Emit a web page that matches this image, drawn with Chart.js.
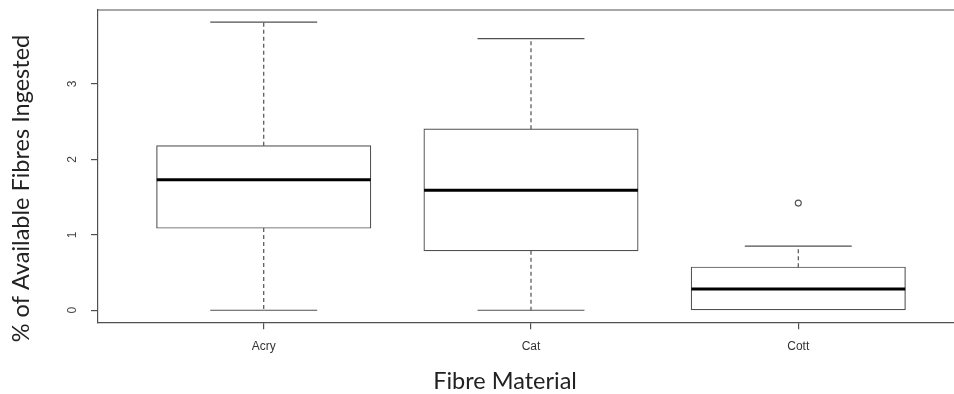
<!DOCTYPE html>
<html>
<head>
<meta charset="utf-8">
<script src="https://cdn.jsdelivr.net/npm/chart.js@4/dist/chart.umd.min.js"></script>
<style>
  html, body { margin: 0; padding: 0; background: #fff; overflow: hidden; }
  #wrap { width: 954px; height: 394px; overflow: hidden; position: relative; }
  canvas { display: block; }
</style>
</head>
<body>
<div id="wrap"><canvas id="c" width="970" height="394"></canvas></div>
<script>
// Fibre ingestion by material: five-number summaries per group
const categories    = ['Acry', 'Cat', 'Cott'];
const lowerWhisker  = [0.00, 0.00, 0.00];
const lowerQuartile = [1.09, 0.79, 0.00];
const medians       = [1.73, 1.59, 0.28];
const upperQuartile = [2.18, 2.40, 0.57];
const upperWhisker  = [3.82, 3.60, 0.85];
const outlierGroup  = [3];
const outlierValue  = [1.42];
const yTickValues   = [0, 1, 2, 3];

const LINE = '#505050';

const boxData = categories.map((c, i) => ({ x: i + 1, y: [lowerQuartile[i], upperQuartile[i]] }));
const outlierData = outlierGroup.map((g, i) => ({ x: g, y: outlierValue[i] }));

// whiskers, staples, medians, top frame line, rotated y labels and axis titles
const boxplotExtras = {
  id: 'boxplotExtras',
  afterDatasetsDraw(chart) {
    const { ctx, scales: { x, y }, chartArea } = chart;
    ctx.save();
    categories.forEach((c, i) => {
      const cx = x.getPixelForValue(i + 1);
      const capL = x.getPixelForValue(i + 1 - 0.2);
      const capR = x.getPixelForValue(i + 1 + 0.2);
      const boxL = x.getPixelForValue(i + 1 - 0.4);
      const boxR = x.getPixelForValue(i + 1 + 0.4);
      // dashed whiskers
      ctx.strokeStyle = LINE;
      ctx.lineWidth = 1.2;
      ctx.setLineDash([4, 3]);
      ctx.beginPath();
      ctx.moveTo(cx, y.getPixelForValue(upperQuartile[i]));
      ctx.lineTo(cx, y.getPixelForValue(upperWhisker[i]));
      if (lowerQuartile[i] > lowerWhisker[i]) {
        ctx.moveTo(cx, y.getPixelForValue(lowerQuartile[i]));
        ctx.lineTo(cx, y.getPixelForValue(lowerWhisker[i]));
      }
      ctx.stroke();
      // staples (a staple that sits on the box edge is covered by the box itself)
      ctx.setLineDash([]);
      ctx.beginPath();
      const staples = [upperWhisker[i]];
      if (lowerQuartile[i] > lowerWhisker[i]) staples.push(lowerWhisker[i]);
      staples.forEach(v => {
        const py = y.getPixelForValue(v);
        ctx.moveTo(capL, py);
        ctx.lineTo(capR, py);
      });
      ctx.stroke();
      // median
      ctx.strokeStyle = '#000';
      ctx.lineWidth = 3;
      ctx.beginPath();
      const my = y.getPixelForValue(medians[i]);
      ctx.moveTo(boxL, my);
      ctx.lineTo(boxR, my);
      ctx.stroke();
    });
    // top edge of the plot frame
    ctx.strokeStyle = LINE;
    ctx.lineWidth = 1.2;
    ctx.beginPath();
    ctx.moveTo(chartArea.left, chartArea.top);
    ctx.lineTo(chartArea.right, chartArea.top);
    ctx.stroke();
    ctx.restore();
  },
  afterDraw(chart) {
    const { ctx, scales: { y } } = chart;
    ctx.save();
    // y tick labels, written along the axis
    ctx.fillStyle = '#444';
    ctx.font = '12px "Liberation Sans", Arial, sans-serif';
    ctx.textAlign = 'center';
    ctx.textBaseline = 'middle';
    y.ticks.forEach(t => {
      ctx.save();
      ctx.translate(73, y.getPixelForValue(t.value));
      ctx.rotate(-Math.PI / 2);
      ctx.fillText(String(t.value), 0, 0);
      ctx.restore();
    });
    // axis titles
    ctx.fillStyle = '#222';
    ctx.font = '23.5px Lato, "Open Sans", sans-serif';
    ctx.textAlign = 'center';
    ctx.textBaseline = 'alphabetic';
    ctx.fillText('Fibre Material', 505, 389);
    ctx.save();
    ctx.translate(29, 188.5);
    ctx.rotate(-Math.PI / 2);
    ctx.fillText('% of Available Fibres Ingested', 0, 0);
    ctx.restore();
    ctx.restore();
  }
};

new Chart(document.getElementById('c'), {
  data: {
    datasets: [
      {
        type: 'bar',
        data: boxData,
        backgroundColor: '#ffffff',
        borderColor: LINE,
        borderWidth: 1.2,
        borderSkipped: false,
        inflateAmount: 0.6,
        barPercentage: 1.0,
        categoryPercentage: 0.8,
        order: 2
      },
      {
        type: 'scatter',
        data: outlierData,
        pointStyle: 'circle',
        pointRadius: 3,
        pointBackgroundColor: '#ffffff',
        pointBorderColor: LINE,
        pointBorderWidth: 1.1,
        order: 1
      }
    ]
  },
  options: {
    responsive: false,
    animation: false,
    events: [],
    layout: { padding: { left: 0, top: 10, right: 6, bottom: 0 } },
    plugins: { legend: { display: false }, tooltip: { enabled: false } },
    scales: {
      x: {
        type: 'linear',
        offset: false,
        min: 0.38,
        max: 3.62,
        afterBuildTicks(scale) { scale.ticks = categories.map((c, i) => ({ value: i + 1 })); },
        afterFit(scale) { scale.height = 71.7; },
        ticks: {
          callback: (v) => categories[Math.round(v) - 1] || '',
          color: '#333',
          font: { family: '"Liberation Sans", Arial, sans-serif', size: 12 },
          padding: 10,
          maxRotation: 0,
          autoSkip: false
        },
        grid: { offset: false, drawOnChartArea: false, drawTicks: true, tickLength: 7, color: LINE, lineWidth: 1.2 },
        border: { display: true, color: LINE, width: 1.2 }
      },
      y: {
        type: 'linear',
        min: -0.16,
        max: 3.98,
        afterBuildTicks(scale) { scale.ticks = yTickValues.map(v => ({ value: v })); },
        afterFit(scale) { scale.width = 98; },
        ticks: { display: false },
        grid: { drawOnChartArea: false, drawTicks: true, tickLength: 7, color: LINE, lineWidth: 1.2 },
        border: { display: true, color: LINE, width: 1.2 }
      }
    }
  },
  plugins: [boxplotExtras]
});
</script>
</body>
</html>
